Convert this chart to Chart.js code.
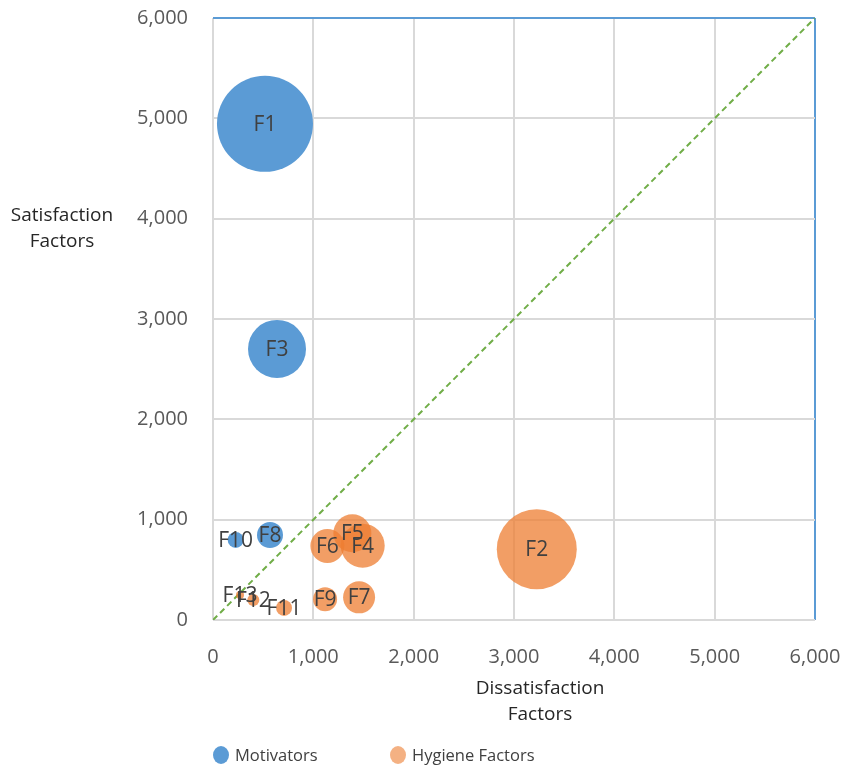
<!DOCTYPE html>
<html>
<head>
<meta charset="utf-8">
<script src="https://cdn.jsdelivr.net/npm/chart.js@4/dist/chart.umd.min.js"></script>
<style>
  html, body { margin: 0; padding: 0; background: #fff; }
  #wrap { width: 842px; height: 766px; }
</style>
</head>
<body>
<div id="wrap"><canvas id="chart" width="842" height="766"></canvas></div>
<script>
// Data
const motivatorNames = ['F1', 'F3', 'F8', 'F10'];
const motivatorX = [518, 638, 568, 226];
const motivatorY = [4945, 2702, 847, 798];
const motivatorSize = [2304, 841, 169, 64];

const hygieneNames = ['F2', 'F4', 'F5', 'F6', 'F7', 'F9', 'F11', 'F12', 'F13'];
const hygieneX = [3227, 1492, 1389, 1140, 1456, 1117, 708, 402, 269];
const hygieneY = [705, 741, 864, 738, 226, 206, 120, 200, 249];
const hygieneSize = [1600, 484, 361, 289, 256, 144, 64, 36, 16];

const axisTicks = [0, 1000, 2000, 3000, 4000, 5000, 6000];
const diagonal = [0, 6000];

const FONT = "'Open Sans', 'Noto Sans', sans-serif";
const BLUE = '#5B9BD5';
const ORANGE = 'rgba(237,125,49,0.75)';

const toPoints = (xs, ys, sizes) =>
  xs.map((x, i) => ({ x: x, y: ys[i], r: Math.sqrt(sizes[i]) }));

// labels inside the bubbles, axis titles and legend
const extras = {
  id: 'extras',
  afterDatasetsDraw(chart) {
    const ctx = chart.ctx;
    ctx.save();
    ctx.fillStyle = '#404040';
    ctx.font = '21px ' + FONT;
    ctx.textAlign = 'center';
    ctx.textBaseline = 'middle';
    [[0, motivatorNames], [1, hygieneNames]].forEach(([di, names]) => {
      chart.getDatasetMeta(di).data.forEach((el, i) => {
        ctx.fillText(names[i], el.x, el.y + 1);
      });
    });
    ctx.restore();
  },
  afterDraw(chart) {
    const ctx = chart.ctx;
    ctx.save();
    ctx.fillStyle = '#262626';
    ctx.font = '19px ' + FONT;
    ctx.textAlign = 'center';
    ctx.textBaseline = 'middle';
    ctx.fillText('Satisfaction', 62, 216);
    ctx.fillText('Factors', 62, 242);
    ctx.fillText('Dissatisfaction', 540, 689);
    ctx.fillText('Factors', 540, 715);

    // legend
    ctx.font = '16.5px ' + FONT;
    ctx.textAlign = 'left';
    ctx.fillStyle = '#404040';
    const items = [['Motivators', BLUE, 221], ['Hygiene Factors', '#F4B183', 398]];
    items.forEach(([txt, col, cx]) => {
      ctx.beginPath();
      ctx.ellipse(cx, 755, 8, 9, 0, 0, Math.PI * 2);
      ctx.fillStyle = col;
      ctx.fill();
      ctx.fillStyle = '#404040';
      ctx.fillText(txt, cx + 14, 756);
    });
    ctx.restore();
  }
};

const gridColor = (c) => c.tick && c.tick.value === 6000 ? BLUE : '#D9D9D9';

new Chart(document.getElementById('chart'), {
  type: 'bubble',
  data: {
    datasets: [
      {
        label: 'Motivators',
        data: toPoints(motivatorX, motivatorY, motivatorSize),
        backgroundColor: BLUE,
        borderWidth: 0,
        clip: false,
        order: 2
      },
      {
        label: 'Hygiene Factors',
        data: toPoints(hygieneX, hygieneY, hygieneSize),
        backgroundColor: ORANGE,
        borderWidth: 0,
        clip: false,
        order: 1
      },
      {
        type: 'line',
        label: 'diag',
        data: diagonal.map(v => ({ x: v, y: v })),
        borderColor: '#70AD47',
        borderWidth: 2,
        borderDash: [6, 4],
        pointRadius: 0,
        fill: false,
        order: 10
      }
    ]
  },
  options: {
    responsive: false,
    animation: false,
    events: [],
    layout: { autoPadding: false, padding: { top: 18, right: 27, left: 0, bottom: 0 } },
    plugins: {
      legend: { display: false },
      tooltip: { enabled: false }
    },
    scales: {
      x: {
        type: 'linear',
        min: 0, max: 6000,
        afterBuildTicks: (s) => { s.ticks = axisTicks.map(v => ({ value: v })); },
        afterFit: (s) => { s.height = 146; s.paddingLeft = 0; s.paddingRight = 0; },
        grid: { color: gridColor, lineWidth: 2, drawTicks: false },
        border: { display: false },
        ticks: {
          padding: 25,
          color: '#595959',
          font: { family: FONT, size: 20 },
          callback: (v) => v.toLocaleString('en-US')
        }
      },
      y: {
        type: 'linear',
        min: 0, max: 6000,
        afterBuildTicks: (s) => { s.ticks = axisTicks.map(v => ({ value: v })); },
        afterFit: (s) => { s.width = 213; s.paddingTop = 0; s.paddingBottom = 0; },
        grid: { color: gridColor, lineWidth: 2, drawTicks: false },
        border: { display: false },
        ticks: {
          padding: 25,
          color: '#595959',
          font: { family: FONT, size: 20 },
          callback: (v) => v.toLocaleString('en-US')
        }
      }
    }
  },
  plugins: [extras]
});
</script>
</body>
</html>
